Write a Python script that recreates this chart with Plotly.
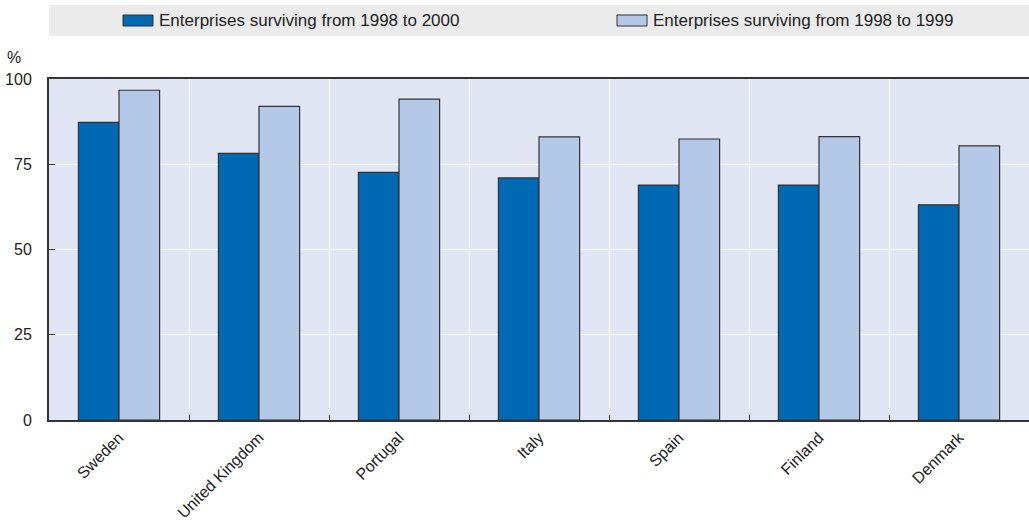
import plotly.graph_objects as go

# Survival rates of enterprises born in 1998 (%)
countries = ["Sweden", "United Kingdom", "Portugal", "Italy", "Spain", "Finland", "Denmark"]
surv_1998_2000 = [87.3, 78.2, 72.6, 71.0, 68.9, 68.9, 63.1]
surv_1998_1999 = [96.7, 92.0, 94.1, 83.0, 82.4, 83.1, 80.4]
series_names = ["Enterprises surviving from 1998 to 2000", "Enterprises surviving from 1998 to 1999"]
y_ticks = [0, 25, 50, 75, 100]

DARK = "#0069B4"
LIGHT = "#B4C8E7"
EDGE = "#333333"
TEXT = "#222222"
FONT = "Liberation Sans, Arial, sans-serif"

# Plot-area geometry in pixels, used to convert header positions to paper units
W, H = 1029, 520
ML, MR, MT, MB = 49, 0, 79, 100
PW, PH = W - ML - MR, H - MT - MB


def px_x(px):
    return (px - ML) / PW


def px_y(py):
    return 1 + (MT - py) / PH


fig = go.Figure()
for name, vals, col in [(series_names[0], surv_1998_2000, DARK),
                        (series_names[1], surv_1998_1999, LIGHT)]:
    fig.add_trace(go.Bar(
        x=countries, y=vals, name=name,
        marker=dict(color=col, line=dict(color=EDGE, width=1.2)),
        showlegend=False,
    ))

fig.update_layout(
    width=W, height=H,
    margin=dict(l=ML, r=MR, t=MT, b=MB, autoexpand=False),
    paper_bgcolor="white",
    plot_bgcolor="#E0E6F4",
    barmode="group",
    bargap=0.42,
    bargroupgap=0,
    font=dict(family=FONT, size=16, color=TEXT),
)

fig.update_xaxes(
    type="category",
    automargin=False,
    tickson="boundaries",
    ticks="inside", ticklen=5, tickcolor=EDGE,
    showgrid=True, gridcolor="white", gridwidth=1.2,
    showline=True, linecolor=EDGE, linewidth=2, mirror=True,
    tickangle=-45,
    tickfont=dict(family=FONT, size=16, color=TEXT),
)
fig.update_yaxes(
    range=[0, 100],
    automargin=False,
    tickvals=y_ticks,
    ticks="inside", ticklen=6, tickcolor=EDGE,
    showgrid=True, gridcolor="white", gridwidth=1.2,
    zeroline=False,
    showline=True, linecolor=EDGE, linewidth=2,
    tickfont=dict(family=FONT, size=16, color=TEXT),
    ticklabelstandoff=12,
)

# Legend band across the top with swatches and series names
shapes = [
    dict(type="rect", xref="paper", yref="paper", layer="above",
         x0=0, x1=1, y0=px_y(36), y1=px_y(5),
         fillcolor="#EBEBEB", line=dict(width=0)),
]
legend_items = [(series_names[0], DARK, 123), (series_names[1], LIGHT, 617)]
for name, col, px in legend_items:
    shapes.append(dict(type="rect", xref="paper", yref="paper", layer="above",
                       x0=px_x(px), x1=px_x(px + 30),
                       y0=px_y(26), y1=px_y(15),
                       fillcolor=col, line=dict(color=EDGE, width=1)))
    fig.add_annotation(xref="paper", yref="paper",
                       x=px_x(px + 34), y=px_y(20.5),
                       text=name, showarrow=False, xanchor="left", yanchor="middle",
                       font=dict(family=FONT, size=17, color=TEXT))
fig.update_layout(shapes=shapes)

# Unit label above the value axis
fig.add_annotation(xref="paper", yref="paper",
                   x=px_x(14), y=px_y(57),
                   text="%", showarrow=False, xanchor="center", yanchor="middle",
                   font=dict(family=FONT, size=16, color=TEXT))

fig.write_html("out.html")
